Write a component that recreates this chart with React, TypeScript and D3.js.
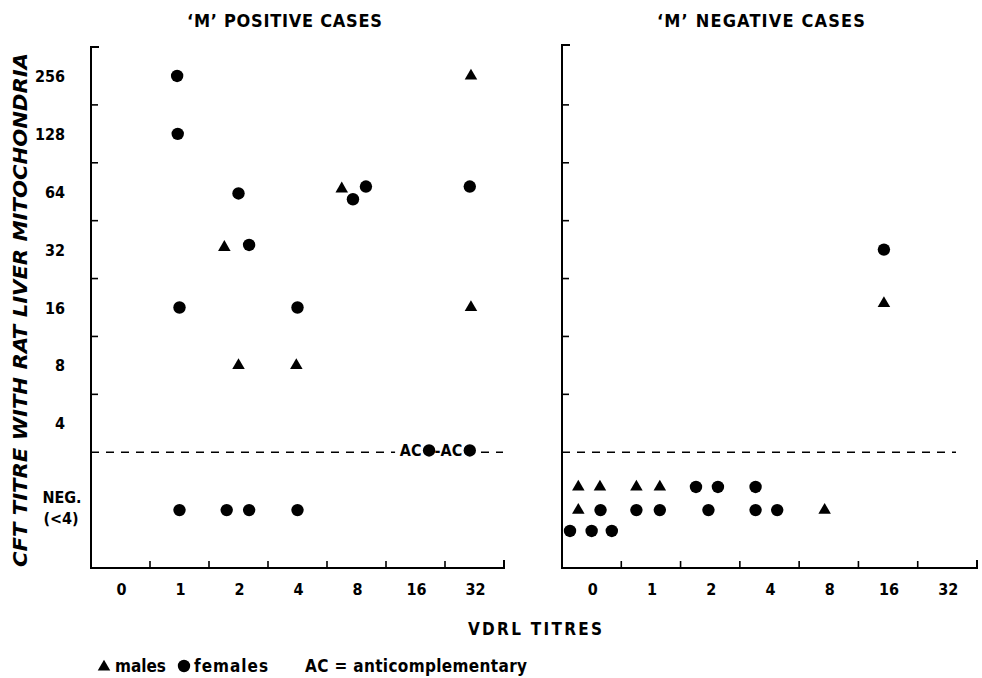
import React from "react";
import * as d3 from "d3";

// ---- data ----
const VDRL_TITRES = ["0", "1", "2", "4", "8", "16", "32"];
const CFT_TITRES = ["4", "8", "16", "32", "64", "128", "256"];
const PANEL_TITLES = ["\u2018M\u2019 POSITIVE CASES", "\u2018M\u2019 NEGATIVE CASES"];

// s: M = male (triangle), F = female (circle); dx/dy: jitter within band (fraction of band)
type Case = { v: string; c: string; s: "M" | "F"; dx: number; dy: number };

const positiveCases: Case[] = [
  { v: "1", c: "256", s: "F", dx: -0.04, dy: 0 },
  { v: "32", c: "256", s: "M", dx: -0.06, dy: 0 },
  { v: "1", c: "128", s: "F", dx: -0.03, dy: 0 },
  { v: "2", c: "64", s: "F", dx: 0, dy: 0.03 },
  { v: "8", c: "64", s: "M", dx: -0.25, dy: -0.05 },
  { v: "8", c: "64", s: "F", dx: -0.06, dy: 0.13 },
  { v: "8", c: "64", s: "F", dx: 0.16, dy: -0.09 },
  { v: "32", c: "64", s: "F", dx: -0.08, dy: -0.09 },
  { v: "2", c: "32", s: "M", dx: -0.24, dy: -0.04 },
  { v: "2", c: "32", s: "F", dx: 0.18, dy: -0.08 },
  { v: "1", c: "16", s: "F", dx: 0, dy: 0 },
  { v: "4", c: "16", s: "F", dx: 0, dy: 0 },
  { v: "32", c: "16", s: "M", dx: -0.06, dy: 0 },
  { v: "2", c: "8", s: "M", dx: 0, dy: 0 },
  { v: "4", c: "8", s: "M", dx: -0.02, dy: 0 },
  { v: "1", c: "NEG", s: "F", dx: 0, dy: 0 },
  { v: "2", c: "NEG", s: "F", dx: -0.2, dy: 0 },
  { v: "2", c: "NEG", s: "F", dx: 0.18, dy: 0 },
  { v: "4", c: "NEG", s: "F", dx: 0, dy: 0 },
];

// anticomplementary sera (plotted on the dividing line)
const positiveAC: Case[] = [
  { v: "16", c: "AC", s: "F", dx: 0.23, dy: -0.03 },
  { v: "32", c: "AC", s: "F", dx: -0.08, dy: -0.03 },
];

const negativeCases: Case[] = [
  { v: "16", c: "32", s: "F", dx: -0.07, dy: 0 },
  { v: "16", c: "16", s: "M", dx: -0.07, dy: -0.07 },
  // NEG row 1
  { v: "0", c: "NEG", s: "M", dx: -0.225, dy: -0.4 },
  { v: "0", c: "NEG", s: "M", dx: 0.14, dy: -0.4 },
  { v: "1", c: "NEG", s: "M", dx: -0.245, dy: -0.4 },
  { v: "1", c: "NEG", s: "M", dx: 0.15, dy: -0.4 },
  { v: "2", c: "NEG", s: "F", dx: -0.24, dy: -0.4 },
  { v: "2", c: "NEG", s: "F", dx: 0.13, dy: -0.4 },
  { v: "4", c: "NEG", s: "F", dx: -0.235, dy: -0.4 },
  // NEG row 2
  { v: "0", c: "NEG", s: "M", dx: -0.225, dy: 0 },
  { v: "0", c: "NEG", s: "F", dx: 0.15, dy: 0 },
  { v: "1", c: "NEG", s: "F", dx: -0.245, dy: 0 },
  { v: "1", c: "NEG", s: "F", dx: 0.15, dy: 0 },
  { v: "2", c: "NEG", s: "F", dx: -0.03, dy: 0 },
  { v: "4", c: "NEG", s: "F", dx: -0.235, dy: 0 },
  { v: "4", c: "NEG", s: "F", dx: 0.13, dy: 0 },
  { v: "8", c: "NEG", s: "M", dx: -0.07, dy: 0 },
  // NEG row 3
  { v: "0", c: "NEG", s: "F", dx: -0.365, dy: 0.36 },
  { v: "0", c: "NEG", s: "F", dx: 0, dy: 0.36 },
  { v: "0", c: "NEG", s: "F", dx: 0.34, dy: 0.36 },
];

// ---- layout ----
const W = 982;
const H = 678;
const FONT = "'DejaVu Sans Condensed', 'DejaVu Sans', sans-serif";
const Y_TOP = 47;
const Y_BOTTOM = 568;

const yScale = d3.scaleLinear().domain([0, 9]).range([Y_BOTTOM, Y_TOP]);
const STEP = (Y_BOTTOM - Y_TOP) / 9;
const yIndex = (c: string) => (c === "NEG" ? 1 : c === "AC" ? 2 : CFT_TITRES.indexOf(c) + 2.5);

const triPath = d3.symbol().type(d3.symbolTriangle).size(68)() as string;
const R = 6.2;

function Marker({ x, y, s }: { x: number; y: number; s: "M" | "F" }) {
  return s === "M" ? (
    <path d={triPath} transform={`translate(${x},${y})`} fill="#000" />
  ) : (
    <circle cx={x} cy={y} r={R} fill="#000" />
  );
}

function Panel({
  x0,
  x1,
  yTop,
  title,
  titleX,
  titleLen,
  cases,
  ac,
  dashEnd,
  showYLabels,
}: {
  x0: number;
  x1: number;
  yTop: number;
  title: string;
  titleX: number;
  titleLen: number;
  cases: Case[];
  ac: Case[];
  dashEnd: number;
  showYLabels: boolean;
}) {
  const xScale = d3.scaleBand<string>().domain(VDRL_TITRES).range([x0, x1]).padding(0);
  const bw = xScale.bandwidth();
  const px = (d: Case) => (xScale(d.v) as number) + bw / 2 + d.dx * bw;
  const py = (d: Case) => yScale(yIndex(d.c)) + d.dy * STEP;
  const yTicks = d3.range(3, 9);
  const dashY = yScale(2);

  return (
    <g>
      <text
        x={titleX}
        y={27}
        fontFamily={FONT}
        fontWeight="bold"
        fontSize={18}
        textLength={titleLen}
        lengthAdjust="spacing"
      >
        {title}
      </text>
      {/* axes */}
      <path
        d={`M${x0 + 8},${yTop} H${x0} V${Y_BOTTOM} H${x1} V${Y_BOTTOM - 8}`}
        fill="none"
        stroke="#000"
        strokeWidth={2}
      />
      {yTicks.map((t) => (
        <line key={t} x1={x0} x2={x0 + 7} y1={yScale(t)} y2={yScale(t)} stroke="#000" strokeWidth={1.6} />
      ))}
      {VDRL_TITRES.slice(1).map((v) => (
        <line
          key={v}
          x1={xScale(v) as number}
          x2={xScale(v) as number}
          y1={Y_BOTTOM}
          y2={Y_BOTTOM - 7}
          stroke="#000"
          strokeWidth={1.6}
        />
      ))}
      {VDRL_TITRES.map((v) => (
        <text
          key={v}
          x={(xScale(v) as number) + bw / 2 + 1}
          y={595}
          textAnchor="middle"
          fontFamily={FONT}
          fontWeight="bold"
          fontSize={16}
        >
          {v}
        </text>
      ))}
      {showYLabels &&
        CFT_TITRES.map((c) => (
          <text
            key={c}
            x={65}
            y={yScale(yIndex(c)) + 6}
            textAnchor="end"
            fontFamily={FONT}
            fontWeight="bold"
            fontSize={16}
          >
            {c}
          </text>
        ))}
      {showYLabels && (
        <g fontFamily={FONT} fontWeight="bold" fontSize={16} textAnchor="middle">
          <text x={62} y={yScale(1) - 7}>NEG.</text>
          <text x={61} y={yScale(1) + 14}>(&lt;4)</text>
        </g>
      )}
      {/* dividing line */}
      <line x1={x0} x2={dashEnd} y1={dashY} y2={dashY} stroke="#000" strokeWidth={1.6} strokeDasharray="8,7" />
      {ac.length > 0 && (
        <rect
          x={px(ac[0]) - 34}
          y={dashY - 4}
          width={px(ac[ac.length - 1]) - px(ac[0]) + 42}
          height={8}
          fill="#fff"
        />
      )}
      {ac.map((d, i) => (
        <text
          key={"ac" + i}
          x={px(d) - 7.5}
          y={py(d) + 6}
          textAnchor="end"
          fontFamily={FONT}
          fontWeight="bold"
          fontSize={16}
        >
          {i === 0 ? "AC" : "-AC"}
        </text>
      ))}
      {ac.map((d, i) => (
        <Marker key={"acm" + i} x={px(d)} y={py(d)} s={d.s} />
      ))}
      {cases.map((d, i) => (
        <Marker key={i} x={px(d)} y={py(d)} s={d.s} />
      ))}
    </g>
  );
}

export default function App() {
  return (
    <svg
      width={W}
      height={H}
      viewBox={`0 0 ${W} ${H}`}
      style={{ position: "absolute", left: 0, top: 0, background: "#fff" }}
    >
      <rect width={W} height={H} fill="#fff" />
      <text
        transform={`translate(27,${(53 + 567) / 2}) rotate(-90)`}
        textAnchor="middle"
        fontFamily={FONT}
        fontWeight="bold"
        fontStyle="italic"
        fontSize={19}
        textLength={514}
        lengthAdjust="spacingAndGlyphs"
      >
        CFT TITRE WITH RAT LIVER MITOCHONDRIA
      </text>
      <Panel
        x0={91}
        x1={504}
        yTop={Y_TOP}
        title={PANEL_TITLES[0]}
        titleX={187}
        titleLen={195}
        cases={positiveCases}
        ac={positiveAC}
        dashEnd={503}
        showYLabels={true}
      />
      <Panel
        x0={562}
        x1={977}
        yTop={45}
        title={PANEL_TITLES[1]}
        titleX={657}
        titleLen={208}
        cases={negativeCases}
        ac={[]}
        dashEnd={956}
        showYLabels={false}
      />
      <text
        x={468}
        y={635}
        fontFamily={FONT}
        fontWeight="bold"
        fontSize={17}
        textLength={134}
        lengthAdjust="spacing"
      >
        VDRL TITRES
      </text>
      {/* legend */}
      <g fontFamily={FONT} fontWeight="bold" fontSize={17}>
        <Marker x={104} y={667} s="M" />
        <text x={115} y={672}>males</text>
        <Marker x={184} y={666} s="F" />
        <text x={194} y={672} letterSpacing={1}>females</text>
        <text x={305} y={672} textLength={222} lengthAdjust="spacing">AC = anticomplementary</text>
      </g>
    </svg>
  );
}
